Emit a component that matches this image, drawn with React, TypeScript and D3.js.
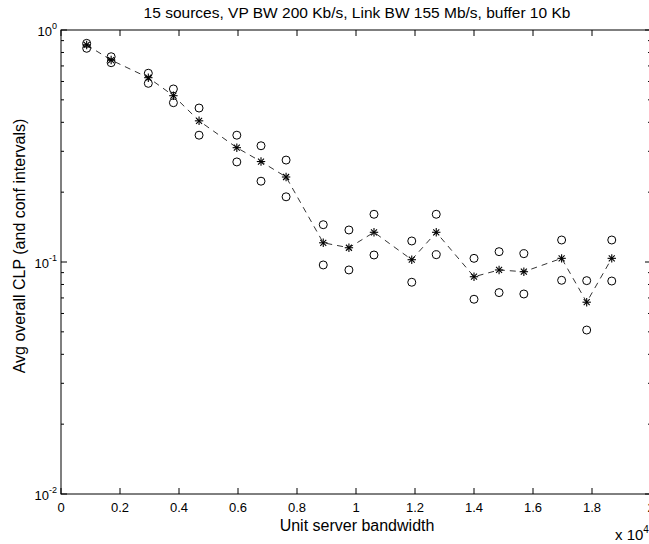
import React from "react";
import * as d3 from "d3";

const titleText = "15 sources, VP BW 200 Kb/s, Link BW 155 Mb/s, buffer 10 Kb";
const xLabel = "Unit server bandwidth";
const yLabel = "Avg overall CLP (and conf intervals)";

// x in units of 1e4
const xs = [0.087, 0.17, 0.296, 0.381, 0.468, 0.596, 0.678, 0.763, 0.889, 0.976, 1.061, 1.189, 1.272, 1.4, 1.485, 1.569, 1.697, 1.782, 1.867];
const mean = [0.862, 0.742, 0.623, 0.521, 0.406, 0.311, 0.271, 0.2325, 0.121, 0.1152, 0.1343, 0.1023, 0.1343, 0.0864, 0.0924, 0.0908, 0.1037, 0.0671, 0.1037];
const upper = [0.876, 0.767, 0.651, 0.557, 0.461, 0.352, 0.317, 0.275, 0.1448, 0.1374, 0.1606, 0.1232, 0.1606, 0.1037, 0.1108, 0.1086, 0.1244, 0.0831, 0.1244];
const lower = [0.834, 0.723, 0.589, 0.486, 0.352, 0.27, 0.223, 0.191, 0.0971, 0.0924, 0.1072, 0.0818, 0.1075, 0.0691, 0.0738, 0.0728, 0.0834, 0.0509, 0.0828];

const xTicks = [0, 0.2, 0.4, 0.6, 0.8, 1, 1.2, 1.4, 1.6, 1.8, 2];
const yMajor = [1, 0.1, 0.01];
const yExp = ["0", "-1", "-2"];

const W = 649, H = 544;
const L = 61, R = 651, T = 30, B = 494;
const FONT = "'Liberation Sans', Arial, Helvetica, sans-serif";

export default function App() {
  const x = d3.scaleLinear().domain([0, 2]).range([L, R]);
  const y = d3.scaleLog().domain([0.01, 1]).range([B, T]);
  const line = d3.line<number>().x((_, i) => x(xs[i])).y((d) => y(d));

  const minor: number[] = [];
  [0.01, 0.1].forEach((d) => {
    for (let k = 2; k <= 9; k++) minor.push(d * k);
  });

  const star = (cx: number, cy: number, key: string) => {
    const s = 4.2;
    const d = 3;
    return (
      <g key={key} stroke="#000" strokeWidth={1.1}>
        <line x1={cx - s} y1={cy} x2={cx + s} y2={cy} />
        <line x1={cx} y1={cy - s} x2={cx} y2={cy + s} />
        <line x1={cx - d} y1={cy - d} x2={cx + d} y2={cy + d} />
        <line x1={cx - d} y1={cy + d} x2={cx + d} y2={cy - d} />
      </g>
    );
  };

  return (
    <svg width={W} height={H} style={{ position: "absolute", left: 0, top: 0, background: "#fff" }} fontFamily={FONT}>
      <rect x={0} y={0} width={W} height={H} fill="#fff" />
      <rect x={L} y={T} width={R - L} height={B - T} fill="none" stroke="#000" strokeWidth={1} />
      {xTicks.map((t) => (
        <g key={"xt" + t}>
          <line x1={x(t)} x2={x(t)} y1={B} y2={B - 6} stroke="#000" />
          <line x1={x(t)} x2={x(t)} y1={T} y2={T + 6} stroke="#000" />
          <text x={x(t)} y={512} fontSize={13} textAnchor="middle">{String(t)}</text>
        </g>
      ))}
      {yMajor.map((t, i) => (
        <g key={"ym" + t}>
          <line x1={L} x2={L + 6} y1={y(t)} y2={y(t)} stroke="#000" />
          <line x1={R} x2={R - 6} y1={y(t)} y2={y(t)} stroke="#000" />
          <text x={L - 4} y={y(t) + 6} fontSize={13} textAnchor="end">
            10<tspan dy={-7} fontSize={9}>{yExp[i]}</tspan>
          </text>
        </g>
      ))}
      {minor.map((t) => (
        <g key={"yn" + t}>
          <line x1={L} x2={L + 3} y1={y(t)} y2={y(t)} stroke="#000" />
          <line x1={R} x2={R - 3} y1={y(t)} y2={y(t)} stroke="#000" />
        </g>
      ))}
      <path d={line(mean) || ""} fill="none" stroke="#000" strokeWidth={0.8} strokeDasharray="6,5" />
      {upper.map((v, i) => (
        <circle key={"u" + i} cx={x(xs[i])} cy={y(v)} r={4} fill="none" stroke="#000" strokeWidth={1} />
      ))}
      {lower.map((v, i) => (
        <circle key={"l" + i} cx={x(xs[i])} cy={y(v)} r={4} fill="none" stroke="#000" strokeWidth={1} />
      ))}
      {mean.map((v, i) => star(x(xs[i]), y(v), "s" + i))}
      <text x={357} y={18} fontSize={15.5} textAnchor="middle">{titleText}</text>
      <text x={357} y={531} fontSize={16} textAnchor="middle">{xLabel}</text>
      <text transform={`translate(25,246) rotate(-90)`} fontSize={16} textAnchor="middle">{yLabel}</text>
      <text x={615} y={540} fontSize={15}>x 10<tspan dy={-7} fontSize={10}>4</tspan></text>
    </svg>
  );
}
